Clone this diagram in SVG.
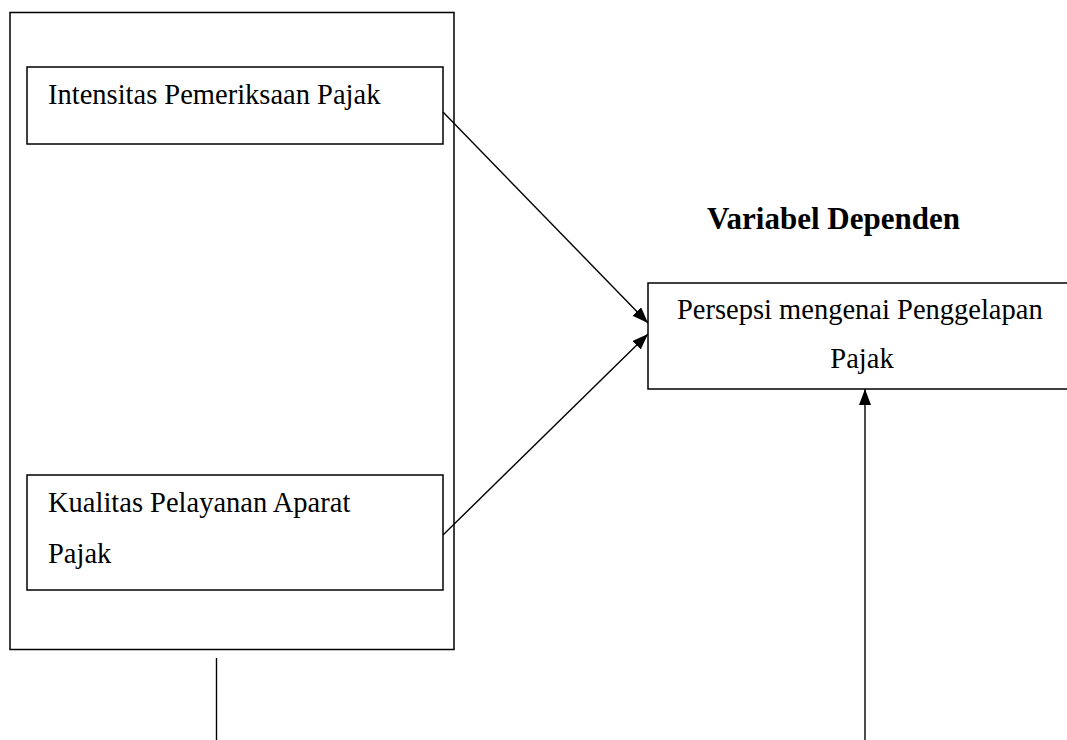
<svg xmlns="http://www.w3.org/2000/svg" width="1067" height="740" viewBox="0 0 1067 740">
<style>
.box{fill:none;stroke:#000;stroke-width:1.5}
.t{font-family:"Liberation Serif","Times New Roman",serif;font-size:28.5px;fill:#000}
.b{font-weight:bold;font-size:31px}
.c{stroke:#000;stroke-width:1.4;fill:none;marker-end:url(#ah)}
.p{stroke:#000;stroke-width:1.4;fill:none}
</style>
<defs>
<marker id="ah" viewBox="0 0 16 12" refX="16" refY="6" markerWidth="16" markerHeight="12" markerUnits="userSpaceOnUse" orient="auto">
<path d="M0,0 L16,6 L0,12 z" fill="#000"/>
</marker>
</defs>
<g id="outer"><rect class="box" x="10" y="12.5" width="444" height="637"/></g>
<g id="n1"><rect class="box" x="27" y="67" width="416" height="77"/><text class="t" x="48" y="104">Intensitas Pemeriksaan Pajak</text></g>
<g id="n2"><rect class="box" x="27" y="475" width="416" height="115"/><text class="t" x="48" y="512">Kualitas Pelayanan Aparat</text><text class="t" x="48" y="563">Pajak</text></g>
<g id="title"><text class="t b" x="707" y="229">Variabel Dependen</text></g>
<g id="n3"><rect class="box" x="648" y="283" width="430" height="106"/><text class="t" x="677" y="319">Persepsi mengenai Penggelapan</text><text class="t" x="862" y="368" text-anchor="middle">Pajak</text></g>
<g id="connectors">
<line class="c" x1="443" y1="112" x2="648" y2="323"/>
<line class="c" x1="443" y1="535" x2="648" y2="334"/>
<line class="c" x1="865" y1="740" x2="865" y2="389"/>
<line class="p" x1="216.5" y1="658" x2="216.5" y2="740"/>
</g>
</svg>
